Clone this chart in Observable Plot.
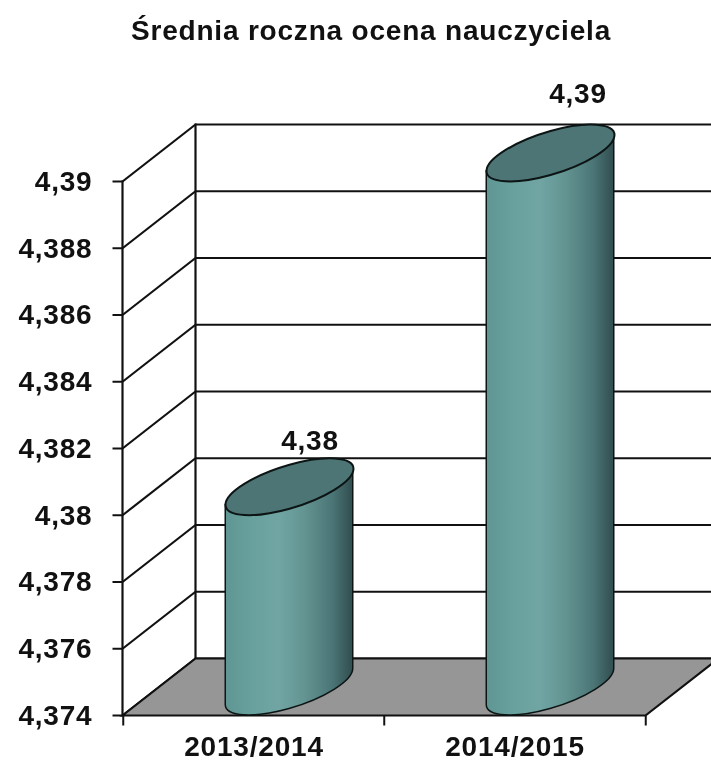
<!DOCTYPE html>
<html>
<head>
<meta charset="utf-8">
<script src="https://cdn.jsdelivr.net/npm/d3@7"></script>
<script src="https://cdn.jsdelivr.net/npm/@observablehq/plot@0.6"></script>
<style>
html,body{margin:0;padding:0;background:#fff}
svg{display:block;filter:blur(0.4px)}
</style>
</head>
<body>
<div id="chart"></div>
<script>
const years = ["2013/2014", "2014/2015"];
const values = [4.38, 4.39];
const labels = ["4,38", "4,39"];
const yTicks = [4.374, 4.376, 4.378, 4.38, 4.382, 4.384, 4.386, 4.388, 4.39];
const chartTitle = "Średnia roczna ocena nauczyciela";

const rows = years.map((year, i) => ({year, value: values[i], label: labels[i]}));
const base = yTicks[0];
const fmt = d => String(+d.toFixed(3)).replace(".", ",");

// depth of the 3D box, in pixels
const depthX = 73, depthY = -57;
const tiltX = 64, tiltY = -18, minor = -22, k = 0.5523;
const ink = "#111";
const bandHalf = 130.75;

const ellipse = {
  draw(c) {
    const [ux, uy, vy] = [tiltX, tiltY, minor];
    c.moveTo(ux, uy);
    c.bezierCurveTo(ux, uy + k * vy, k * ux, vy + k * uy, 0, vy);
    c.bezierCurveTo(-k * ux, vy - k * uy, -ux, -uy + k * vy, -ux, -uy);
    c.bezierCurveTo(-ux, -uy - k * vy, -k * ux, -vy - k * uy, 0, -vy);
    c.bezierCurveTo(k * ux, -vy + k * uy, ux, uy - k * vy, ux, uy);
    c.closePath();
  }
};
const floor = {
  draw(c) {
    c.moveTo(0, 0);
    c.lineTo(depthX, depthY);
    c.lineTo(depthX + 523, depthY);
    c.lineTo(523, 0);
    c.closePath();
  }
};
const stick = {
  draw(c, l) { c.moveTo(0, 0); c.lineTo(0, -l); }
};

function cylinderBody(index, scales, vals, dims, ctx, next) {
  const g = next(index, scales, vals, dims, ctx);
  d3.select(g).selectAll("rect").each(function () {
    const x = +this.getAttribute("x"), w = +this.getAttribute("width");
    const y = +this.getAttribute("y"), h = +this.getAttribute("height");
    const cx = x + w / 2, yt = y, yb = y + h, u = w / 2;
    const p = d3.path();
    p.moveTo(cx - u, yt - tiltY);
    p.lineTo(cx - u, yb - tiltY);
    p.bezierCurveTo(cx - u, yb - tiltY - k * minor, cx - k * u, yb - minor - k * tiltY, cx, yb - minor);
    p.bezierCurveTo(cx + k * u, yb - minor + k * tiltY, cx + u, yb + tiltY - k * minor, cx + u, yb + tiltY);
    p.lineTo(cx + u, yt + tiltY);
    p.closePath();
    const path = document.createElementNS("http://www.w3.org/2000/svg", "path");
    path.setAttribute("d", p.toString());
    this.replaceWith(path);
  });
  return g;
}

const gradient = () => {
  const defs = d3.create("svg:defs");
  const lg = defs.append("linearGradient").attr("id", "cyl");
  [[0, "#5f9694"], [0.22, "#69a19e"], [0.42, "#70a5a3"], [0.62, "#639492"], [0.84, "#4b7576"], [1, "#314d4f"]]
    .forEach(([o, c]) => lg.append("stop").attr("offset", o).attr("stop-color", c));
  return defs.node();
};

const textStyle = {fontFamily: "Liberation Sans", fontWeight: "bold", fill: "#111"};
const tickStyle = {shape: stick, anchor: "start", stroke: ink, strokeWidth: 2, strokeLinecap: "butt"};

const plot = Plot.plot({
  width: 711,
  height: 762,
  marginLeft: 122,
  marginRight: 66,
  marginTop: 181,
  marginBottom: 47,
  style: {background: "#fff", overflow: "hidden", letterSpacing: "0.8px"},
  x: {type: "band", domain: years, padding: 0, label: null},
  y: {domain: [base, yTicks[yTicks.length - 1]], label: null},
  marks: [
    gradient,
    // back wall grid
    Plot.ruleY(yTicks, {dx: depthX, dy: depthY, stroke: ink, strokeWidth: 2.2}),
    Plot.frame({anchor: "left", dx: depthX, dy: depthY, stroke: ink, strokeWidth: 2.2}),
    // side wall lines
    Plot.vector(yTicks, {
      y: d => d, frameAnchor: "left", length: Math.hypot(depthX, depthY),
      rotate: Math.atan2(depthX, -depthY) * 180 / Math.PI,
      ...tickStyle, strokeWidth: 2.2
    }),
    // floor
    Plot.dot([0], {frameAnchor: "bottom-left", symbol: floor, fill: "#969696", stroke: ink, strokeWidth: 2.2}),
    Plot.frame({anchor: "left", stroke: ink, strokeWidth: 2.2}),
    // category ticks at the band edges
    Plot.vector(years, {x: d => d, frameAnchor: "bottom", dx: -bandHalf, length: 10, rotate: 180, ...tickStyle}),
    Plot.vector(years.slice(-1), {x: d => d, frameAnchor: "bottom", dx: bandHalf, length: 10, rotate: 180, ...tickStyle}),
    // value ticks
    Plot.vector(yTicks, {y: d => d, frameAnchor: "left", length: 10, rotate: -90, ...tickStyle}),
    // cylinders
    Plot.barY(rows, {
      x: "year", y1: () => base, y2: "value", dx: depthX / 2 - 1, dy: depthY / 2,
      insetLeft: 66.75, insetRight: 66.75,
      fill: "url(#cyl)", stroke: "#0c1414", strokeWidth: 1.5, render: cylinderBody
    }),
    Plot.dot(rows, {
      x: "year", y: "value", dx: depthX / 2 - 1, dy: depthY / 2,
      symbol: ellipse, fill: "#4d7576", stroke: "#0c1414", strokeWidth: 2
    }),
    // axes
    Plot.axisY({
      ticks: yTicks, tickFormat: fmt, tickSize: 0, tickPadding: 30, dy: 0.5, label: null, anchor: "left",
      fontSize: 28, ...textStyle
    }),
    Plot.axisX({
      tickSize: 0, tickPadding: 21, label: null, anchor: "bottom",
      fontSize: 28, ...textStyle
    }),
    // data labels
    Plot.text(rows.slice(0, 1), {x: "year", y: "value", text: "label", dx: 56, dy: -74, fontSize: 28, ...textStyle}),
    Plot.text(rows.slice(1), {x: "year", y: "value", text: "label", dx: 63, dy: -87, fontSize: 28, ...textStyle}),
    // title
    Plot.text([chartTitle], {
      frameAnchor: "top", text: d => d, dx: -13, dy: -161, fontSize: 28, ...textStyle
    })
  ]
});
document.getElementById("chart").append(plot);
</script>
</body>
</html>
